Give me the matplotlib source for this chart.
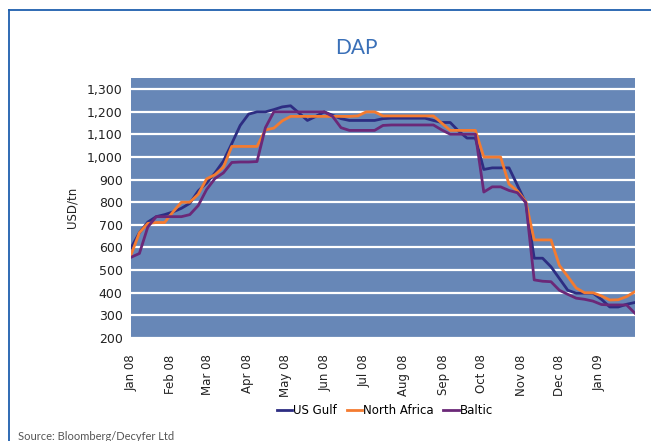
import numpy as np
import pandas as pd
import matplotlib
matplotlib.use('Agg')
import matplotlib.pyplot as plt
import matplotlib.dates as mdates
from matplotlib.lines import Line2D
from matplotlib.ticker import FuncFormatter, MultipleLocator

# DAP prices, USD/tn, Jan 2008 - Jan 2009 (61 observations)
dates = pd.date_range('2008-01-01', '2009-01-29', periods=61)

us_gulf = [598, 665, 712, 736, 745, 757, 773, 795, 850, 885,
           930, 982, 1060, 1140, 1190, 1200, 1200, 1210, 1222, 1227,
           1195, 1162, 1180, 1200, 1185, 1170, 1162, 1162, 1162, 1162,
           1170, 1172, 1172, 1172, 1172, 1172, 1162, 1153, 1153, 1115,
           1084, 1084, 945, 952, 952, 952, 875, 796, 552, 552,
           514, 462, 410, 397, 397, 397, 370, 336, 336, 348, 356]

north_africa = [567, 665, 706, 710, 710, 757, 800, 800, 835, 903,
                922, 955, 1047, 1047, 1047, 1047, 1120, 1128, 1160, 1180,
                1180, 1180, 1180, 1180, 1180, 1180, 1180, 1182, 1200, 1200,
                1182, 1182, 1182, 1182, 1182, 1182, 1182, 1150, 1118, 1118,
                1118, 1118, 1000, 1000, 1000, 880, 850, 803, 633, 633,
                633, 520, 471, 420, 399, 399, 385, 367, 368, 382, 404]

baltic = [556, 573, 690, 736, 736, 736, 736, 745, 785, 856,
          905, 930, 976, 978, 978, 980, 1130, 1200, 1200, 1200,
          1200, 1200, 1200, 1200, 1180, 1130, 1118, 1118, 1118, 1118,
          1140, 1142, 1142, 1142, 1142, 1142, 1142, 1120, 1101, 1101,
          1101, 1101, 845, 868, 868, 852, 842, 798, 456, 450,
          448, 410, 392, 375, 370, 362, 347, 345, 345, 345, 308]

series_names = ['US Gulf', 'North Africa', 'Baltic']
colors = ['#2d2d82', '#f47b30', '#6b2878']

fig = plt.figure(figsize=(6.51, 4.41), dpi=100)
ax = fig.add_axes([131 / 651, 1 - 337.7 / 441, 504 / 651, (337.7 - 78) / 441])
ax.set_facecolor('#6787b7')

ax.plot(dates, us_gulf, color=colors[0], lw=2)
ax.plot(dates, north_africa, color=colors[1], lw=2)
ax.plot(dates, baltic, color=colors[2], lw=2)

ax.set_ylim(200, 1350)
ax.set_xlim(dates[0], dates[-1])
ax.yaxis.set_major_locator(MultipleLocator(100))
ax.yaxis.set_major_formatter(FuncFormatter(lambda v, p: f'{int(v):,}'))
ax.grid(axis='y', color='white', lw=1.6)
ax.set_axisbelow(True)
ax.xaxis.set_major_locator(mdates.MonthLocator())
ax.xaxis.set_major_formatter(mdates.DateFormatter('%b %y'))
for lab in ax.get_xticklabels():
    lab.set_rotation(90)
ax.tick_params(axis='x', length=0, pad=12, labelsize=8.5, colors='#222222')
ax.tick_params(axis='y', length=0, pad=6, labelsize=9, colors='#222222')
for s in ax.spines.values():
    s.set_visible(False)
ax.set_ylabel('USD/tn', fontsize=8.5, color='#222222', labelpad=6)

fig.text(356 / 651, 1 - 48 / 441, 'DAP', ha='center', va='center',
         fontsize=15, color='#3a70b8', family='Lato')

handles = [Line2D([], [], color=c, lw=2) for c in colors]
fig.legend(handles, series_names, loc='center', bbox_to_anchor=(385 / 651, 1 - 411 / 441),
           ncol=3, frameon=False, fontsize=8.5, handlelength=1.3, handletextpad=0.1,
           columnspacing=0.8)

fig.text(18 / 651, 1 - 436 / 441, 'Source: Bloomberg/Decyfer Ltd', ha='left', va='center',
         fontsize=8, color='#555555', family='Lato')

# frame lines
fig.add_artist(Line2D([9 / 651, 9 / 651], [0, 1 - 10 / 441], color='#1f5fae', lw=1.3,
                      transform=fig.transFigure))
fig.add_artist(Line2D([9 / 651, 1], [1 - 10 / 441, 1 - 10 / 441], color='#1f5fae', lw=1.3,
                      transform=fig.transFigure))

fig.savefig('out.png', dpi=100)
